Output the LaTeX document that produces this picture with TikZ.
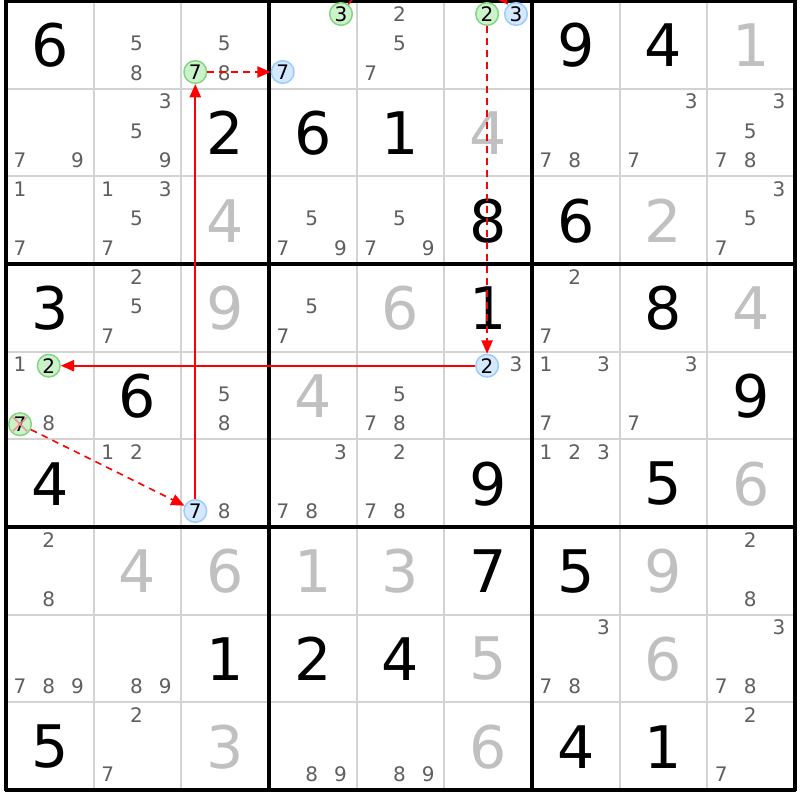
\documentclass[tikz,border=0pt]{standalone}
\usepackage{fontspec}
\setmainfont{DejaVu Sans}
\usetikzlibrary{arrows.meta}
\definecolor{candgray}{HTML}{5F5F5F}
\definecolor{solvedgray}{HTML}{C0C0C0}
\definecolor{thingray}{HTML}{D3D3D3}
\definecolor{greenfill}{HTML}{CCF2CC}
\definecolor{greenline}{HTML}{80D680}
\definecolor{bluefill}{HTML}{D4E8FF}
\definecolor{blueline}{HTML}{99CCFF}
\definecolor{linkred}{HTML}{FF0000}
\definecolor{xpink}{HTML}{F08C8C}
\begin{document}
\begin{tikzpicture}[x=0.75pt,y=-0.75pt,
  given/.style={font=\fontsize{44}{44}\selectfont, text=black, inner sep=0},
  solved/.style={font=\fontsize{44}{44}\selectfont, text=solvedgray, inner sep=0},
  cand/.style={font=\fontsize{15}{15}\selectfont, text=candgray, inner sep=0},
  gcirc/.style={circle, draw=greenline, fill=greenfill, line width=1.1pt, minimum size=17pt, inner sep=0, font=\fontsize{15}{15}\selectfont, text=black},
  bcirc/.style={gcirc, draw=blueline, fill=bluefill},
  stronglink/.style={color=linkred, line width=1.4pt, -{Triangle[length=10pt,width=8.5pt]}},
  weaklink/.style={stronglink, line width=1.2pt, dash pattern=on 5pt off 4pt},
  thinline/.style={draw=thingray, line width=1.5pt},
  thickline/.style={draw=black, line width=2.4pt},
]
\useasboundingbox (0,0) rectangle (800,800);
\fill[white] (0,0) rectangle (800,800);
% grid
\foreach \i in {1,2,4,5,7,8} {
  \draw[thinline] ({6+87.667*\i},1) -- ({6+87.667*\i},790);
  \draw[thinline] (6,{1+87.667*\i}) -- (795,{1+87.667*\i});
}
\foreach \i in {0,3,6,9} {
  \draw[thickline] ({6+87.667*\i},0) -- ({6+87.667*\i},791.2);
  \draw[thickline] (4.8,{1+87.667*\i}) -- (796.2,{1+87.667*\i});
}
% given digits
\foreach \r/\c/\v in {0/0/6,0/6/9,0/7/4,1/2/2,1/3/6,1/4/1,2/5/8,2/6/6,3/0/3,3/5/1,3/7/8,
  4/1/6,4/8/9,5/0/4,5/5/9,5/7/5,6/5/7,6/6/5,7/2/1,7/3/2,7/4/4,8/0/5,8/6/4,8/7/1}
  \node[given] (v-\r-\c) at ({6+87.667*(\c+0.5)},{1.5+87.667*(\r+0.5)}) {\v};
% solved digits
\foreach \r/\c/\v in {0/8/1,1/5/4,2/2/4,2/7/2,3/2/9,3/4/6,3/8/4,4/3/4,5/8/6,
  6/1/4,6/2/6,6/3/1,6/4/3,6/7/9,7/5/5,7/7/6,8/2/3,8/5/6}
  \node[solved] (v-\r-\c) at ({6+87.667*(\c+0.5)},{1.5+87.667*(\r+0.5)}) {\v};
% candidates
\foreach \r/\c/\lst in {0/1/{5,8},0/2/{5,8},0/4/{2,5,7},
  1/0/{7,9},1/1/{3,5,9},1/6/{7,8},1/7/{3,7},1/8/{3,5,7,8},
  2/0/{1,7},2/1/{1,3,5,7},2/3/{5,7,9},2/4/{5,7,9},2/8/{3,5,7},
  3/1/{2,5,7},3/3/{5,7},3/6/{2,7},
  4/0/{1,8},4/2/{5,8},4/4/{5,7,8},4/5/{3},4/6/{1,3,7},4/7/{3,7},
  5/1/{1,2},5/2/{8},5/3/{3,7,8},5/4/{2,7,8},5/6/{1,2,3},
  6/0/{2,8},6/8/{2,8},
  7/0/{7,8,9},7/1/{8,9},7/6/{3,7,8},7/8/{3,7,8},
  8/1/{2,7},8/3/{8,9},8/4/{8,9},8/8/{2,7}} {
  \foreach \d in \lst {
    \pgfmathsetmacro\px{6+87.667*\c+14+28.8*mod(\d-1,3)}
    \pgfmathsetmacro\py{1+87.667*\r+13+29.5*floor((\d-1)/3)}
    \node[cand] (c-\r-\c-\d) at (\px,\py) {\d};
  }
}
% circled candidates
\node[gcirc] (gA) at (195.3,72) {7};
\node[gcirc] (gB) at (341,14) {3};
\node[gcirc] (gC) at (487.1,14) {2};
\node[gcirc] (gD) at (48.8,365.7) {2};
\node[gcirc] (gE) at (20,424.2) {7};
\node[bcirc] (bA) at (282.7,72) {7};
\node[bcirc] (bB) at (516,14) {3};
\node[bcirc] (bC) at (487.1,365.7) {2};
\node[bcirc] (bD) at (195.3,511) {7};
% elimination cross
\draw[xpink, line width=1.3pt, opacity=0.85] ([shift={(-7,-7)}]gE.center) -- ([shift={(7,7)}]gE.center);
\draw[xpink, line width=1.3pt, opacity=0.85] ([shift={(-7,7)}]gE.center) -- ([shift={(7,-7)}]gE.center);
% links
\draw[stronglink] (bD) -- (gA);
\draw[weaklink] (gA) -- (bA);
\draw[weaklink] (gB) .. controls (385,-45) and (470,-40) .. (bB);
\draw[weaklink] (gC) -- (bC);
\draw[stronglink] (bC) -- (gD);
\draw[weaklink] (gE) -- (bD);
\end{tikzpicture}
\end{document}
